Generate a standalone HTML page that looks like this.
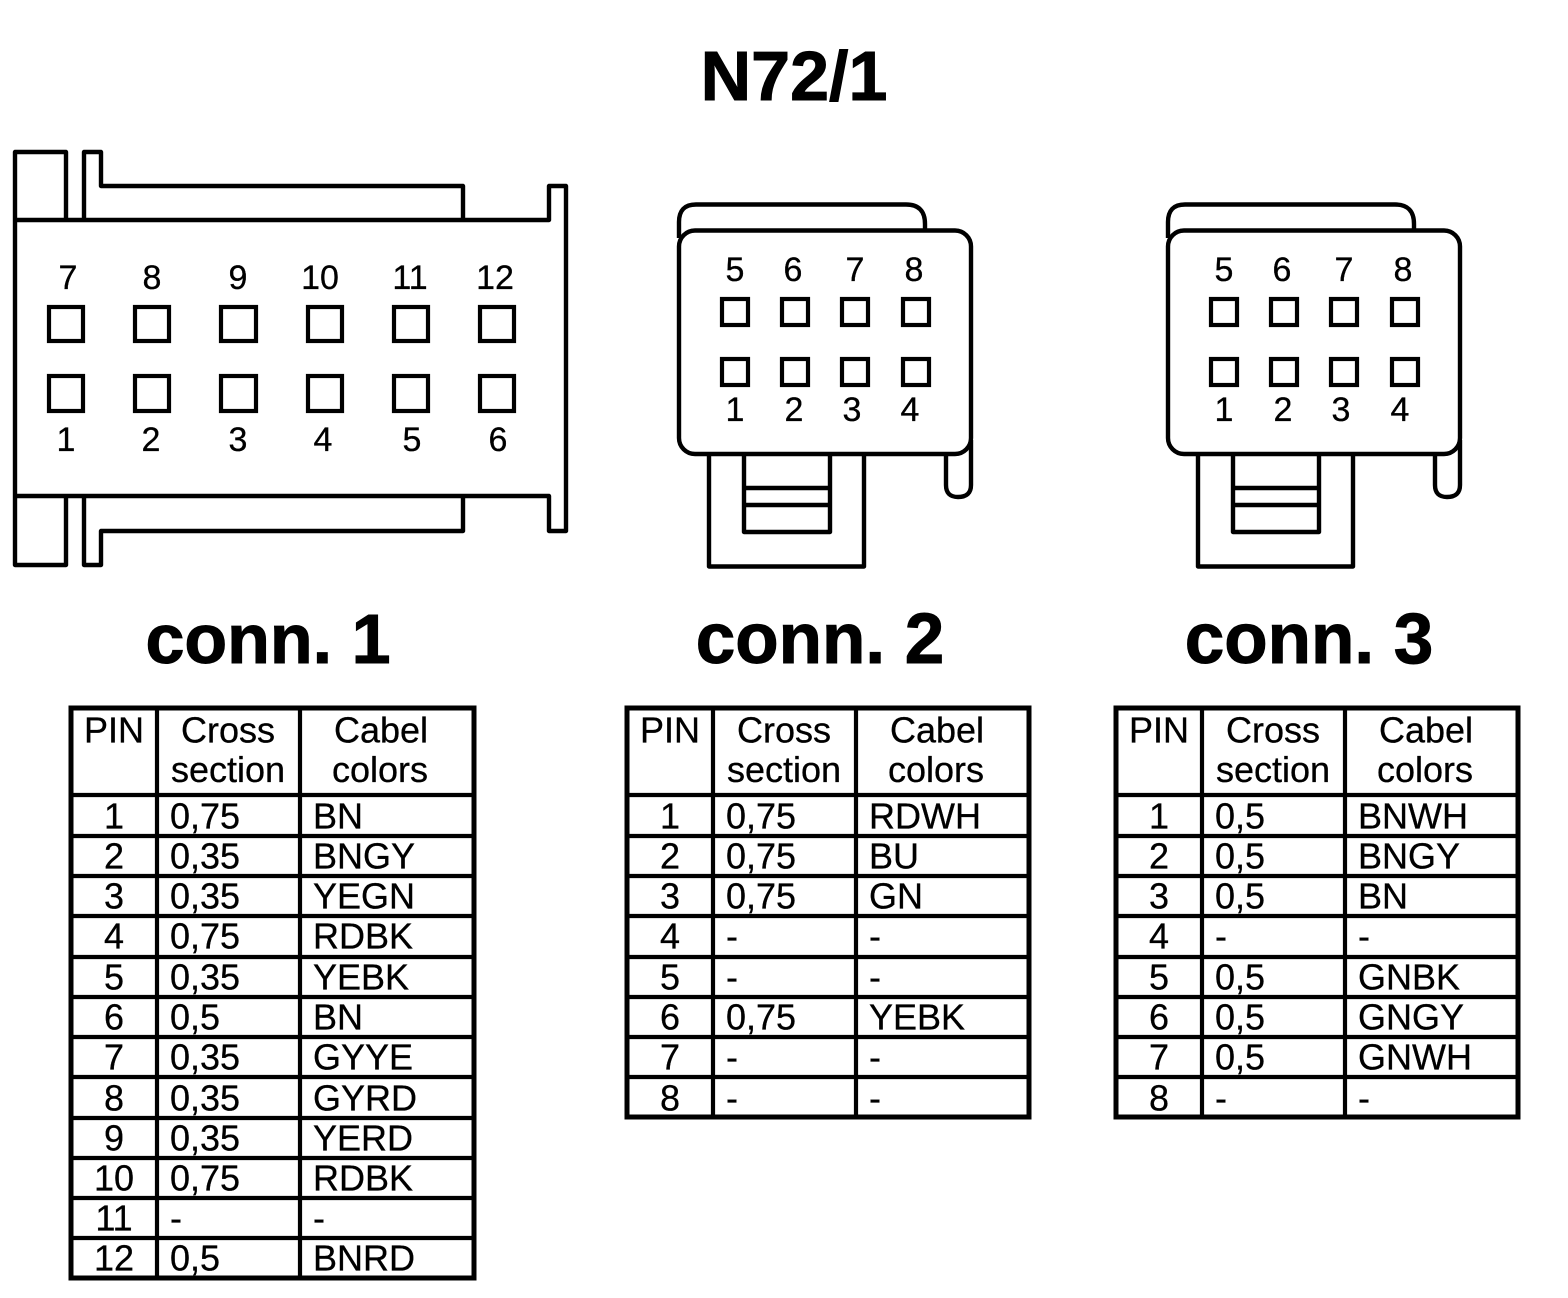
<!DOCTYPE html>
<html>
<head>
<meta charset="utf-8">
<style>
html,body{margin:0;padding:0;background:#fff}
svg{display:block}
text{font-family:"Liberation Sans",Arial,sans-serif;fill:#000;stroke:#000;stroke-width:.3}
.t{font-size:36px}
.l{font-size:34px}
.b{font-weight:bold;font-size:70px;stroke-width:1}
.w{font-size:71px}
.m{text-anchor:middle}
.d{fill:none;stroke:#000;stroke-width:4.4;stroke-linejoin:round}
.o{fill:none;stroke:#000;stroke-width:5}
.i{fill:none;stroke:#000;stroke-width:4.2}
</style>
</head>
<body>
<svg width="1568" height="1298" viewBox="0 0 1568 1298" xmlns="http://www.w3.org/2000/svg">
<rect width="1568" height="1298" fill="#fff"/>
<text x="794" y="100" class="b m">N72/1</text>
<text x="268" y="663" class="b m">conn. 1</text>
<text x="820" y="663" class="b m w">conn. 2</text>
<text x="1309" y="663" class="b m w">conn. 3</text>

<!-- connector 1 -->
<path class="d" d="M66 220V152H15V565H66V496M15 220H549V186H566V531H549V496H15M84 220V152H101V186H463V220M84 496V565H101V531H463V496"/>
<g class="i">
<rect x="49" y="307" width="34" height="34"/><rect x="135" y="307" width="34" height="34"/><rect x="221" y="307" width="35" height="34"/><rect x="308" y="307" width="34" height="34"/><rect x="394" y="307" width="34" height="34"/><rect x="480" y="307" width="34" height="34"/>
<rect x="49" y="376" width="34" height="35"/><rect x="135" y="376" width="34" height="35"/><rect x="221" y="376" width="35" height="35"/><rect x="308" y="376" width="34" height="35"/><rect x="394" y="376" width="34" height="35"/><rect x="480" y="376" width="34" height="35"/>
</g>
<text class="l m" y="289" x="68">7</text><text class="l m" y="289" x="152">8</text><text class="l m" y="289" x="238">9</text><text class="l m" y="289" x="320">10</text><text class="l m" y="289" x="410">11</text><text class="l m" y="289" x="495">12</text>
<text class="l m" y="451" x="66">1</text><text class="l m" y="451" x="151">2</text><text class="l m" y="451" x="238">3</text><text class="l m" y="451" x="323">4</text><text class="l m" y="451" x="412">5</text><text class="l m" y="451" x="498">6</text>

<!-- connector 2 -->
<path class="d" d="M679 238V222Q679 204.500 696 204.500H906Q925 204.500 925 224V231"/>
<rect class="d" x="679" y="230.500" width="292" height="223.500" rx="16" ry="16"/>
<path class="d" d="M709 454V566.500H864V454M744 454V532H830V454M744 488H830M744 505H830M946 454V485Q946 497 958 497Q971 497 971 485V440"/>
<g class="i">
<rect x="722" y="299" width="26" height="26"/><rect x="782" y="299" width="26" height="26"/><rect x="842" y="299" width="26" height="26"/><rect x="903" y="299" width="26" height="26"/>
<rect x="722" y="359" width="26" height="26"/><rect x="782" y="359" width="26" height="26"/><rect x="842" y="359" width="26" height="26"/><rect x="903" y="359" width="26" height="26"/>
</g>
<text class="l m" y="281" x="735">5</text><text class="l m" y="281" x="793">6</text><text class="l m" y="281" x="855">7</text><text class="l m" y="281" x="914">8</text>
<text class="l m" y="421" x="735">1</text><text class="l m" y="421" x="794">2</text><text class="l m" y="421" x="852">3</text><text class="l m" y="421" x="910">4</text>

<!-- connector 3 -->
<path class="d" d="M1168 238V222Q1168 204.500 1185 204.500H1395Q1414 204.500 1414 224V231"/>
<rect class="d" x="1168" y="230.500" width="292" height="223.500" rx="16" ry="16"/>
<path class="d" d="M1198 454V566.500H1353V454M1233 454V532H1319V454M1233 488H1319M1233 505H1319M1435 454V485Q1435 497 1447 497Q1460 497 1460 485V440"/>
<g class="i">
<rect x="1211" y="299" width="26" height="26"/><rect x="1271" y="299" width="26" height="26"/><rect x="1331" y="299" width="26" height="26"/><rect x="1392" y="299" width="26" height="26"/>
<rect x="1211" y="359" width="26" height="26"/><rect x="1271" y="359" width="26" height="26"/><rect x="1331" y="359" width="26" height="26"/><rect x="1392" y="359" width="26" height="26"/>
</g>
<text class="l m" y="281" x="1224">5</text><text class="l m" y="281" x="1282">6</text><text class="l m" y="281" x="1344">7</text><text class="l m" y="281" x="1403">8</text>
<text class="l m" y="421" x="1224">1</text><text class="l m" y="421" x="1283">2</text><text class="l m" y="421" x="1341">3</text><text class="l m" y="421" x="1400">4</text>

<!-- table 1 -->
<rect class="o" x="71" y="708" width="403" height="570"/>
<path class="i" d="M157 708V1278M300 708V1278M71 795H474M71 836H474M71 876H474M71 916H474M71 957H474M71 997H474M71 1037H474M71 1077H474M71 1118H474M71 1158H474M71 1198H474M71 1238H474"/>
<text class="t m" x="114" y="742.500">PIN</text><text class="t m" x="228" y="742.500">Cross</text><text class="t m" x="228" y="782">section</text><text class="t m" x="381" y="742.500">Cabel</text><text class="t m" x="380" y="782">colors</text>
<text class="t m" x="114" y="828.500">1</text><text class="t" x="170" y="828.500">0,75</text><text class="t" x="313" y="828.500">BN</text>
<text class="t m" x="114" y="868.500">2</text><text class="t" x="170" y="868.500">0,35</text><text class="t" x="313" y="868.500">BNGY</text>
<text class="t m" x="114" y="908.500">3</text><text class="t" x="170" y="908.500">0,35</text><text class="t" x="313" y="908.500">YEGN</text>
<text class="t m" x="114" y="948.500">4</text><text class="t" x="170" y="948.500">0,75</text><text class="t" x="313" y="948.500">RDBK</text>
<text class="t m" x="114" y="989.500">5</text><text class="t" x="170" y="989.500">0,35</text><text class="t" x="313" y="989.500">YEBK</text>
<text class="t m" x="114" y="1029.500">6</text><text class="t" x="170" y="1029.500">0,5</text><text class="t" x="313" y="1029.500">BN</text>
<text class="t m" x="114" y="1069.500">7</text><text class="t" x="170" y="1069.500">0,35</text><text class="t" x="313" y="1069.500">GYYE</text>
<text class="t m" x="114" y="1110.500">8</text><text class="t" x="170" y="1110.500">0,35</text><text class="t" x="313" y="1110.500">GYRD</text>
<text class="t m" x="114" y="1150.500">9</text><text class="t" x="170" y="1150.500">0,35</text><text class="t" x="313" y="1150.500">YERD</text>
<text class="t m" x="114" y="1190.500">10</text><text class="t" x="170" y="1190.500">0,75</text><text class="t" x="313" y="1190.500">RDBK</text>
<text class="t m" x="114" y="1230.500">11</text><text class="t" x="170" y="1230.500">-</text><text class="t" x="313" y="1230.500">-</text>
<text class="t m" x="114" y="1270.500">12</text><text class="t" x="170" y="1270.500">0,5</text><text class="t" x="313" y="1270.500">BNRD</text>

<!-- table 2 -->
<rect class="o" x="627" y="708" width="402" height="409"/>
<path class="i" d="M713 708V1117M856 708V1117M627 795H1029M627 836H1029M627 876H1029M627 916H1029M627 957H1029M627 997H1029M627 1037H1029M627 1077H1029"/>
<text class="t m" x="670" y="742.500">PIN</text><text class="t m" x="784" y="742.500">Cross</text><text class="t m" x="784" y="782">section</text><text class="t m" x="937" y="742.500">Cabel</text><text class="t m" x="936" y="782">colors</text>
<text class="t m" x="670" y="828.500">1</text><text class="t" x="726" y="828.500">0,75</text><text class="t" x="869" y="828.500">RDWH</text>
<text class="t m" x="670" y="868.500">2</text><text class="t" x="726" y="868.500">0,75</text><text class="t" x="869" y="868.500">BU</text>
<text class="t m" x="670" y="908.500">3</text><text class="t" x="726" y="908.500">0,75</text><text class="t" x="869" y="908.500">GN</text>
<text class="t m" x="670" y="948.500">4</text><text class="t" x="726" y="948.500">-</text><text class="t" x="869" y="948.500">-</text>
<text class="t m" x="670" y="989.500">5</text><text class="t" x="726" y="989.500">-</text><text class="t" x="869" y="989.500">-</text>
<text class="t m" x="670" y="1029.500">6</text><text class="t" x="726" y="1029.500">0,75</text><text class="t" x="869" y="1029.500">YEBK</text>
<text class="t m" x="670" y="1069.500">7</text><text class="t" x="726" y="1069.500">-</text><text class="t" x="869" y="1069.500">-</text>
<text class="t m" x="670" y="1110.500">8</text><text class="t" x="726" y="1110.500">-</text><text class="t" x="869" y="1110.500">-</text>

<!-- table 3 -->
<rect class="o" x="1116" y="708" width="402" height="409"/>
<path class="i" d="M1202 708V1117M1345 708V1117M1116 795H1518M1116 836H1518M1116 876H1518M1116 916H1518M1116 957H1518M1116 997H1518M1116 1037H1518M1116 1077H1518"/>
<text class="t m" x="1159" y="742.500">PIN</text><text class="t m" x="1273" y="742.500">Cross</text><text class="t m" x="1273" y="782">section</text><text class="t m" x="1426" y="742.500">Cabel</text><text class="t m" x="1425" y="782">colors</text>
<text class="t m" x="1159" y="828.500">1</text><text class="t" x="1215" y="828.500">0,5</text><text class="t" x="1358" y="828.500">BNWH</text>
<text class="t m" x="1159" y="868.500">2</text><text class="t" x="1215" y="868.500">0,5</text><text class="t" x="1358" y="868.500">BNGY</text>
<text class="t m" x="1159" y="908.500">3</text><text class="t" x="1215" y="908.500">0,5</text><text class="t" x="1358" y="908.500">BN</text>
<text class="t m" x="1159" y="948.500">4</text><text class="t" x="1215" y="948.500">-</text><text class="t" x="1358" y="948.500">-</text>
<text class="t m" x="1159" y="989.500">5</text><text class="t" x="1215" y="989.500">0,5</text><text class="t" x="1358" y="989.500">GNBK</text>
<text class="t m" x="1159" y="1029.500">6</text><text class="t" x="1215" y="1029.500">0,5</text><text class="t" x="1358" y="1029.500">GNGY</text>
<text class="t m" x="1159" y="1069.500">7</text><text class="t" x="1215" y="1069.500">0,5</text><text class="t" x="1358" y="1069.500">GNWH</text>
<text class="t m" x="1159" y="1110.500">8</text><text class="t" x="1215" y="1110.500">-</text><text class="t" x="1358" y="1110.500">-</text>
</svg>
</body>
</html>
